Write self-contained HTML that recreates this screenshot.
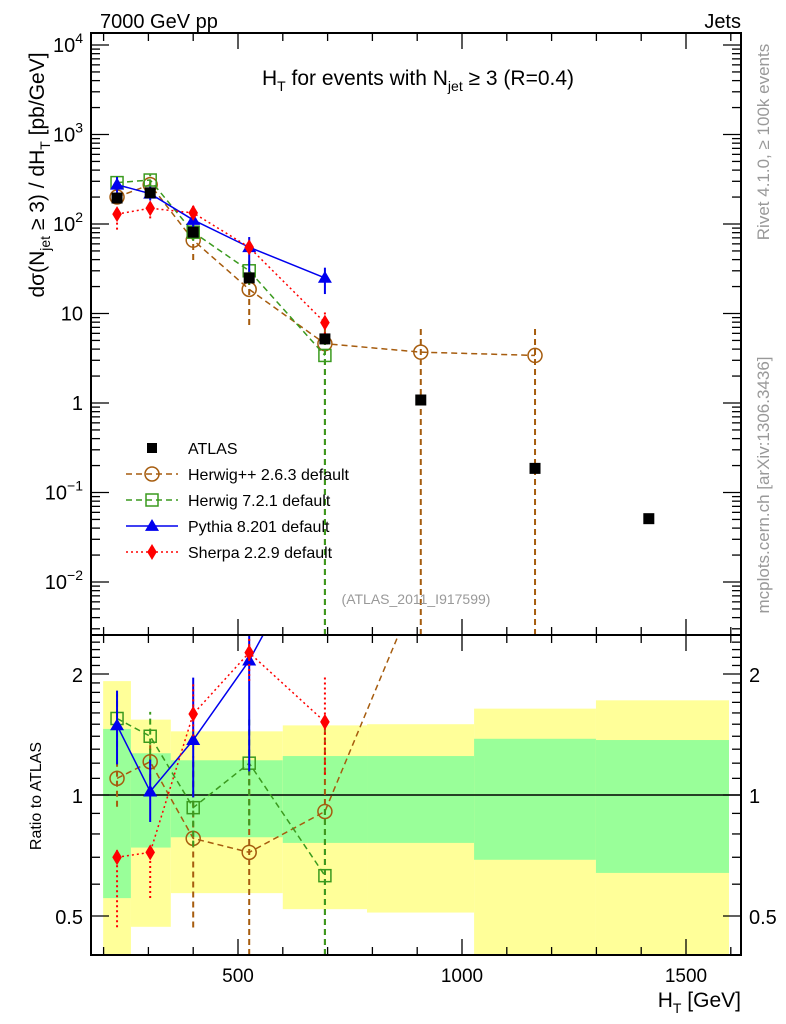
<!DOCTYPE html>
<html><head><meta charset="utf-8"><style>
html,body{margin:0;background:#fff;width:786px;height:1024px;overflow:hidden}
svg{display:block;font-family:"Liberation Sans",sans-serif}
</style></head><body>
<svg id="c" width="786" height="1024" viewBox="0 0 786 1024" xmlns="http://www.w3.org/2000/svg">
<g id="bands"></g><g id="grid"></g><g id="series"></g><g id="axes"></g>
<text x="100" y="28" font-size="20">7000 GeV pp</text>
<text x="741" y="28" font-size="20" text-anchor="end">Jets</text>
<text x="418" y="85" font-size="21" text-anchor="middle">H<tspan font-size="14" dy="6">T</tspan><tspan dy="-6"> for events with N</tspan><tspan font-size="14" dy="6">jet</tspan><tspan dy="-6"> ≥ 3 (R=0.4)</tspan></text>
<text transform="translate(44,175) rotate(-90)" font-size="21" text-anchor="middle">dσ(N<tspan font-size="14" dy="6">jet</tspan><tspan dy="-6"> ≥ 3) / dH</tspan><tspan font-size="14" dy="6">T</tspan><tspan dy="-6"> [pb/GeV]</tspan></text>
<text transform="translate(41,796) rotate(-90)" font-size="16" text-anchor="middle">Ratio to ATLAS</text>
<text x="741" y="1007" font-size="21" text-anchor="end">H<tspan font-size="14" dy="6">T</tspan><tspan dy="-6"> [GeV]</tspan></text>
<text transform="translate(769,142) rotate(-90)" font-size="17" fill="#999" text-anchor="middle">Rivet 4.1.0, ≥ 100k events</text>
<text transform="translate(769,485) rotate(-90)" font-size="17" fill="#999" text-anchor="middle">mcplots.cern.ch [arXiv:1306.3436]</text>
<text x="416" y="604" font-size="14" fill="#999" text-anchor="middle">(ATLAS_2011_I917599)</text>
<g id="legend"></g>
</svg>
<script>
const atlasX=[230,304,400,525,694,908,1163,1417];
const atlasY=[195,223,81,25,5.2,1.08,0.186,0.051];
const mcX=[230,304,400,525,694,908,1163];
const herwigppY=[200,275,66,18.6,4.6,3.7,3.4];
const herwigppR=[1.10,1.21,0.78,0.72,0.91,3.4,18];
const herwigppLo=[0.85,0.9,0.6,0.4,0,0,0];
const herwigppHi=[1.1,1.1,1.6,1.6,1.6,2.0,2.0];
const herwig7Y=[290,310,81,30,3.4];
const herwig7R=[1.55,1.40,0.93,1.20,0.63];
const herwig7Lo=[0.85,0.85,0.8,0.7,0];
const herwig7Hi=[1.15,1.15,1.3,1.3,1.5];
const pythiaY=[275,218,111,55,25];
const pythiaR=[1.49,1.02,1.37,2.16,4.8];
const pythiaLo=[0.8,0.84,0.72,0.53,0.66];
const pythiaHi=[1.22,1.2,1.43,1.3,1.3];
const sherpaY=[129,150,133,55,7.9];
const sherpaR=[0.70,0.72,1.59,2.26,1.52];
const sherpaLo=[0.67,0.77,0.88,0.85,0.74];
const sherpaHi=[1.05,1.05,1.2,1.25,1.3];
const bandEdges=[199,261,350,600,788,1027,1299,1596];
const yellowHi=[1.92,1.54,1.44,1.49,1.50,1.64,1.72];
const yellowLo=[0.30,0.47,0.57,0.52,0.51,0.30,0.30];
const greenHi=[1.46,1.27,1.22,1.25,1.25,1.38,1.37];
const greenLo=[0.554,0.74,0.785,0.76,0.76,0.69,0.64];
const xTicks=[500,1000,1500];
const mainTickExp=[-2,-1,0,1,2,3,4];
const ratioTicks=[0.5,1,2];

const NS="http://www.w3.org/2000/svg";
const L=91,R=741,T=33,MB=635,RB=955;
const X=v=>14+v*0.448;
const Y=v=>403-Math.log10(v)*89.5;
const RY=v=>795-Math.log10(v)*402;
function el(tag,attrs,parent){const e=document.createElementNS(NS,tag);for(const k in attrs)e.setAttribute(k,attrs[k]);parent.appendChild(e);return e;}
const bands=document.getElementById('bands'),axes=document.getElementById('axes'),ser=document.getElementById('series'),leg=document.getElementById('legend');
const clamp=(v,a,b)=>Math.max(a,Math.min(b,v));
for(let i=0;i<7;i++){
 const x1=X(bandEdges[i]),x2=X(bandEdges[i+1]);
 const y1=clamp(RY(yellowHi[i]),MB,RB),y2=clamp(RY(yellowLo[i]),MB,RB);
 const yb=el('rect',{x:x1,y:y1,width:x2-x1,height:y2-y1,fill:'#ffff99'},bands);
 
 
 const g=el('rect',{x:x1,y:RY(greenHi[i]),width:x2-x1,height:RY(greenLo[i])-RY(greenHi[i]),fill:'#99ff99'},bands);
 
 
}
el('line',{x1:L,x2:R,y1:RY(1),y2:RY(1),stroke:'#000','stroke-width':1.5},bands);
const f1=el('rect',{x:L,y:T,width:R-L,height:MB-T,fill:'none',stroke:'#000','stroke-width':2},axes);


const f2=el('rect',{x:L,y:MB,width:R-L,height:RB-MB,fill:'none',stroke:'#000','stroke-width':2},axes);


for(let v=200;v<=1600;v+=100){
 const x=X(v),maj=v%500===0,len=maj?16:8;
 for(const [a,b] of [[T,1],[MB,-1],[MB,1],[RB,-1]]) el('line',{x1:x,x2:x,y1:a,y2:a+b*len,stroke:'#000','stroke-width':1.3},axes);
}
xTicks.forEach(v=>{const t=el('text',{x:X(v),y:982,'font-size':19,'text-anchor':'middle'},axes);t.textContent=v;
 
 });
for(let e=-3;e<=4;e++){for(let m=1;m<10;m++){const v=m*Math.pow(10,e);const y=Y(v);if(y<T||y>MB)continue;const len=m===1?18:9;
 el('line',{x1:L,x2:L+len,y1:y,y2:y,stroke:'#000','stroke-width':1.3},axes);el('line',{x1:R,x2:R-len,y1:y,y2:y,stroke:'#000','stroke-width':1.3},axes);}}
mainTickExp.forEach(e=>{const y=Y(Math.pow(10,e));const t=el('text',{x:83,y:y+7,'font-size':20,'text-anchor':'end'},axes);
 if(e===0)t.textContent='1';else if(e===1)t.textContent='10';else{t.textContent='10';const s=el('tspan',{dy:-9,'font-size':14},t);s.textContent=String(e).replace('-','−');}
 
 });
[0.4,0.5,0.6,0.7,0.8,0.9,1,1.1,1.2,1.3,1.4,1.5,1.6,1.7,1.8,1.9,2,2.1,2.2,2.3,2.4,2.5].forEach(v=>{const y=RY(v);if(y<MB||y>RB)return;const len=(v===0.5||v===1||v===2)?18:9;
 el('line',{x1:L,x2:L+len,y1:y,y2:y,stroke:'#000','stroke-width':1.3},axes);el('line',{x1:R,x2:R-len,y1:y,y2:y,stroke:'#000','stroke-width':1.3},axes);});
ratioTicks.forEach(v=>{for(const [x,a] of [[83,'end'],[749,'start']]){const t=el('text',{x:x,y:RY(v)+8,'font-size':20,'text-anchor':a},axes);t.textContent=v;
 
 }});
const defs=el('defs',{},document.getElementById('c'));
const c1=el('clipPath',{id:'cm'},defs);el('rect',{x:L,y:T,width:R-L,height:MB-T},c1);
const c2=el('clipPath',{id:'cr'},defs);el('rect',{x:L,y:MB,width:R-L,height:RB-MB},c2);
const gm=el('g',{'clip-path':'url(#cm)'},ser),gr=el('g',{'clip-path':'url(#cr)'},ser);
function marker(g,type,x,y,color,s){
 let m;
 if(type==='circle')m=el('circle',{cx:x,cy:y,r:s,fill:'#fff','fill-opacity':0,stroke:color,'stroke-width':1.5},g);
 else if(type==='square')m=el('rect',{x:x-s,y:y-s,width:2*s,height:2*s,fill:'none',stroke:color,'stroke-width':1.5},g);
 else if(type==='fsquare')m=el('rect',{x:x-s,y:y-s,width:2*s,height:2*s,fill:color},g);
 else if(type==='tri')m=el('polygon',{points:`${x},${y-s} ${x-s},${y+s*0.7} ${x+s},${y+s*0.7}`,fill:color},g);
 else m=el('polygon',{points:`${x},${y-s} ${x-s*0.6},${y} ${x},${y+s} ${x+s*0.6},${y}`,fill:color},g);
 return m;
}
const series=[
 {name:'herwigpp',xs:mcX,ys:herwigppY,rs:herwigppR,lo:herwigppLo,hi:herwigppHi,color:'#a65c0e',dash:'6,4',m:'circle',s:7,label:'Herwig++ 2.6.3 default'},
 {name:'herwig7',xs:mcX,ys:herwig7Y,rs:herwig7R,lo:herwig7Lo,hi:herwig7Hi,color:'#3a9a1e',dash:'6,4',m:'square',s:6,label:'Herwig 7.2.1 default'},
 {name:'pythia',xs:mcX,ys:pythiaY,rs:pythiaR,lo:pythiaLo,hi:pythiaHi,color:'#0000ee',dash:'',m:'tri',s:7,label:'Pythia 8.201 default'},
 {name:'sherpa',xs:mcX,ys:sherpaY,rs:sherpaR,lo:sherpaLo,hi:sherpaHi,color:'#ff0000',dash:'2,3',m:'diamond',s:8,label:'Sherpa 2.2.9 default'}
];
series.forEach(sr=>{
 for(const [g,fn,vals,isRatio,top,bot] of [[gm,Y,sr.ys,false,T,MB],[gr,RY,sr.rs,true,MB,RB]]){
  const cy=v=>v<=0?bot:clamp(fn(v),top-20,bot+20);
  const pts=vals.map((v,i)=>X(sr.xs[i])+','+fn(v)).join(' ');
  const pl=el('polyline',{points:pts,fill:'none',stroke:sr.color,'stroke-width':1.5,'stroke-dasharray':sr.dash},g);
  
  
  vals.forEach((v,i)=>{const x=X(sr.xs[i]);
   if(isRatio&&fn(v)<MB)return;
   const e=el('line',{x1:x,x2:x,y1:cy(v*sr.lo[i]),y2:cy(v*sr.hi[i]),stroke:sr.color,'stroke-width':2,'stroke-dasharray':sr.dash},g);
   
   
   const m=marker(g,sr.m,x,fn(v),sr.color,sr.s);
   
   
  });
 }
});
atlasY.forEach((v,i)=>{const m=marker(gm,'fsquare',X(atlasX[i]),Y(v),'#000',5.5);
 
 });
const ly=[448,474,500,526,552];
const lm=el('rect',{x:147,y:ly[0]-5,width:10,height:10,fill:'#000'},leg);


const lt=el('text',{x:188,y:ly[0]+6,'font-size':16},leg);lt.textContent='ATLAS';


series.forEach((sr,i)=>{const y=ly[i+1];
 el('line',{x1:126,x2:178,y1:y,y2:y,stroke:sr.color,'stroke-width':1.5,'stroke-dasharray':sr.dash},leg);
 marker(leg,sr.m,152,y,sr.color,sr.s);
 const t=el('text',{x:188,y:y+6,'font-size':16},leg);t.textContent=sr.label;
 
 
});
</script>
</body></html>
